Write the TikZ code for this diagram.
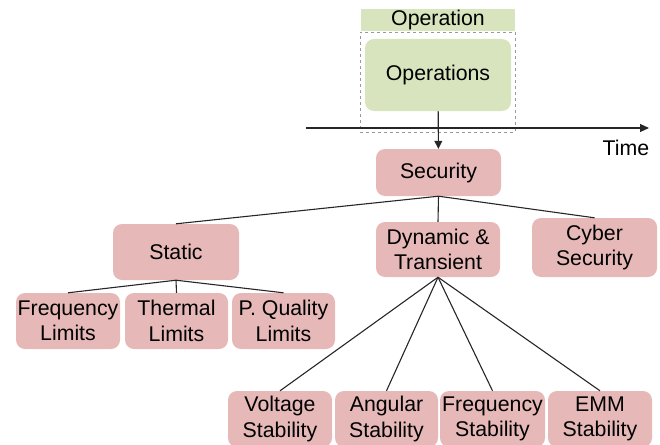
\documentclass[tikz,border=0pt]{standalone}
\usepackage{fontspec}
\setmainfont{Liberation Sans}
\usetikzlibrary{arrows.meta}
\definecolor{opgreen}{RGB}{215,228,189}
\definecolor{secpink}{RGB}{230,185,184}
\begin{document}
\begin{tikzpicture}[x=1pt,y=1pt,yscale=-1,xscale=1,
  box/.style={rectangle,rounded corners=9pt,inner sep=0pt,align=center,
    font=\fontsize{21.3}{25.5}\selectfont},
  secbox/.style={box,fill=secpink},
  link/.style={line width=1.1pt,draw=black!85}]
\useasboundingbox (0,0) rectangle (660,444);

%Operation frame
\node [rectangle,fill=opgreen,inner sep=0pt,minimum width=154pt,minimum height=22pt,
  font=\fontsize{21.3}{25.5}\selectfont] (oplabel) at (438,20) {Operation};
\node [rectangle,draw=black!40,dashed,line width=0.6pt,minimum width=155pt,minimum height=100pt] (opframe) at (437.5,82) {};
\node [box,fill=opgreen,minimum width=146pt,minimum height=72pt] (ops) at (438,75) {Operations};

%Time axis
\coordinate (tstart) at (306,128);
\coordinate (tend) at (649,128);
\draw [link,-{Triangle[length=9pt,width=8pt]}] (tstart) -- (tend);
\node [font=\fontsize{21.3}{25.5}\selectfont] (time) at (626,148) {Time};

%Security tree
\node [secbox,minimum width=125pt,minimum height=47pt] (sec) at (438.5,172.5) {Security};
\node [secbox,minimum width=126pt,minimum height=56pt] (static) at (176,252) {Static};
\node [secbox,minimum width=124pt,minimum height=55pt] (dyn) at (438,249.5) {Dynamic \&\\Transient};
\node [secbox,minimum width=125pt,minimum height=59pt] (cyber) at (594.5,247.5) {Cyber\\Security};

\node [secbox,minimum width=104pt,minimum height=56pt] (freqlim) at (68,321) {Frequency\\Limits};
\node [secbox,minimum width=103pt,minimum height=56pt] (thermlim) at (176.5,321) {Thermal\\Limits};
\node [secbox,minimum width=103pt,minimum height=56pt] (pqlim) at (283.5,321) {P. Quality\\Limits};

\node [secbox,minimum width=104pt,minimum height=56pt] (voltstab) at (280,419) {Voltage\\Stability};
\node [secbox,minimum width=103pt,minimum height=56pt] (angstab) at (386.5,419) {Angular\\Stability};
\node [secbox,minimum width=105pt,minimum height=56pt] (freqstab) at (492.5,419) {Frequency\\Stability};
\node [secbox,minimum width=104pt,minimum height=56pt] (emmstab) at (600,419) {EMM\\Stability};

%Connectors
\draw [link,-{Triangle[length=8pt,width=8pt]}] (ops) -- (sec);
\draw [link] (sec.south) -- (static.north);
\draw [link] (sec.south) -- (dyn.north);
\draw [link] (sec.south) -- (cyber.north);
\foreach \n in {freqlim,thermlim,pqlim}
  \draw [link] (static.south) -- (\n.north);
\foreach \n in {voltstab,angstab,freqstab,emmstab}
  \draw [link] (dyn.south) -- (\n.north);

\end{tikzpicture}
\end{document}
